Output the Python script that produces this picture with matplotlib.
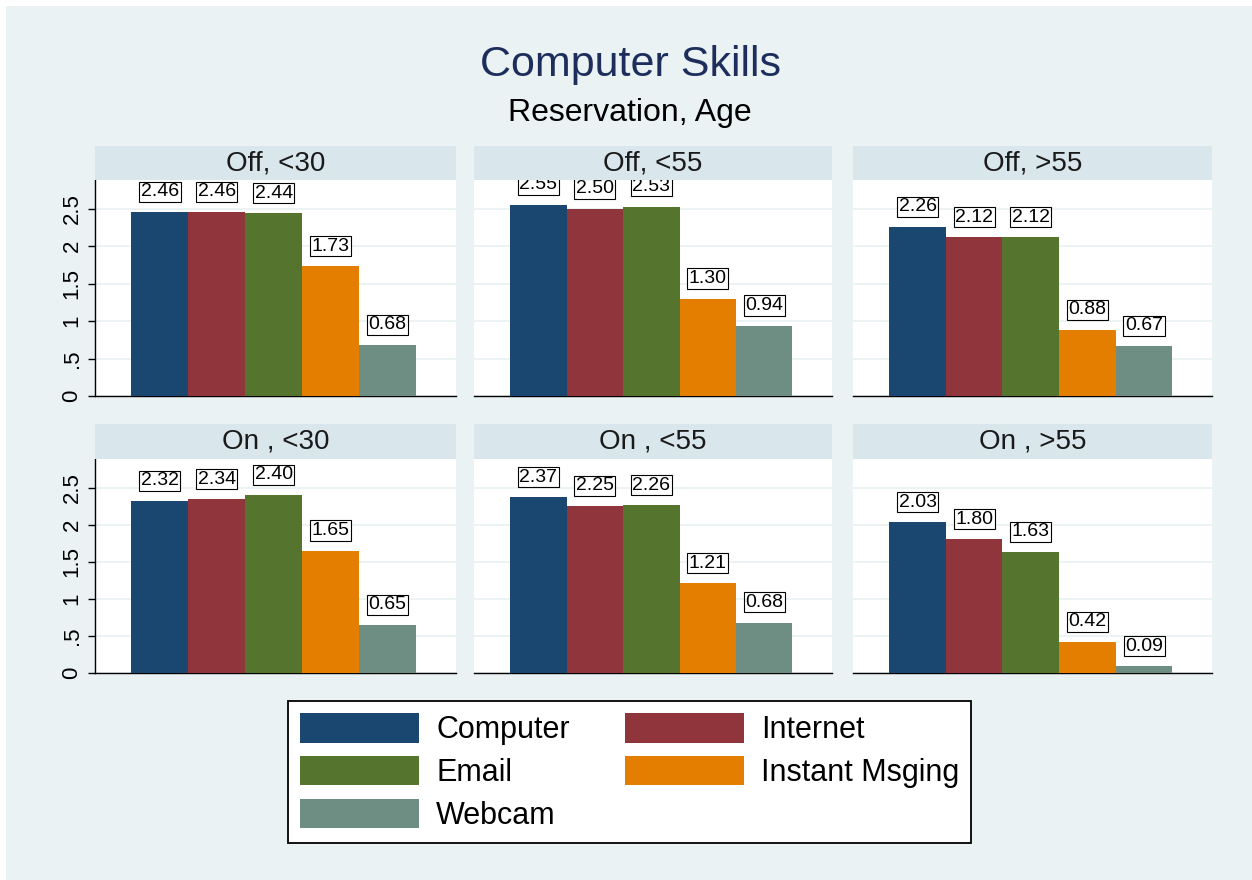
import matplotlib
matplotlib.use("Agg")
import matplotlib.pyplot as plt
from matplotlib.patches import Rectangle, Patch
import numpy as np

plt.rcParams['font.family'] = ['Liberation Sans', 'DejaVu Sans']

series = ["Computer", "Internet", "Email", "Instant Msging", "Webcam"]
colors = ["#1A476F", "#90353B", "#55752F", "#E37E00", "#6E8E84"]
panels = ["Off, <30", "Off, <55", "Off, >55", "On , <30", "On , <55", "On , >55"]
values = [
    [2.46, 2.46, 2.44, 1.73, 0.68],
    [2.55, 2.50, 2.53, 1.30, 0.94],
    [2.26, 2.12, 2.12, 0.88, 0.67],
    [2.32, 2.34, 2.40, 1.65, 0.65],
    [2.37, 2.25, 2.26, 1.21, 0.68],
    [2.03, 1.80, 1.63, 0.42, 0.09],
]
yticks = [0, 0.5, 1, 1.5, 2, 2.5]
yticklabels = ["0", ".5", "1", "1.5", "2", "2.5"]

W, H = 1252, 880
bg = "#EAF2F3"
strip_c = "#D9E6EB"
fig = plt.figure(figsize=(W / 100, H / 100), dpi=100, facecolor="white")
fig.patches.append(Rectangle((6 / W, 0), 1 - 6 / W, 1 - 6 / H, transform=fig.transFigure,
                             facecolor=bg, edgecolor="none", zorder=-10))

def px(x0, y0, x1, y1):
    return [x0 / W, 1 - y1 / H, (x1 - x0) / W, (y1 - y0) / H]

col_x = [(95, 456), (474, 832), (853, 1212)]
row_y = [(146, 180, 396), (424, 459, 673)]

for i, (name, vals) in enumerate(zip(panels, values)):
    r, c = divmod(i, 3)
    x0, x1 = col_x[c]
    s0, p0, p1 = row_y[r]
    ax = fig.add_axes(px(x0, p0, x1, p1))
    ax.set_facecolor("white")
    xpos = np.arange(len(vals))
    ax.bar(xpos, vals, width=1.0, color=colors, edgecolor="none", zorder=3)
    for xv, v in zip(xpos, vals):
        ax.annotate(f"{v:.2f}", (xv, v), xytext=(0, 14.5), textcoords="offset points",
                    ha="center", va="center", fontsize=14, zorder=4, clip_on=True,
                    bbox=dict(boxstyle="square,pad=0.08", facecolor="white",
                              edgecolor="black", linewidth=0.8))
    ax.set_xlim(-1.14, 5.2)
    ax.set_ylim(0, 2.885)
    ax.set_yticks(yticks)
    ax.grid(axis="y", color=bg, linewidth=1.3, zorder=0)
    ax.set_axisbelow(True)
    ax.set_xticks([])
    for sp in ["top", "right"]:
        ax.spines[sp].set_visible(False)
    ax.spines["bottom"].set_linewidth(1.0)
    if c == 0:
        ax.set_yticklabels(yticklabels, rotation=90, va="center", fontsize=16)
        ax.tick_params(axis="y", length=5, width=1.0, pad=4)
        ax.spines["left"].set_linewidth(1.0)
    else:
        ax.spines["left"].set_visible(False)
        ax.tick_params(axis="y", length=0, labelleft=False)
    # strip
    sax = fig.add_axes(px(x0, s0, x1, p0))
    sax.set_facecolor(strip_c)
    sax.set_xticks([]); sax.set_yticks([])
    for sp in sax.spines.values():
        sp.set_visible(False)
    sax.text(0.5, 0.5, name, ha="center", va="center", fontsize=20,
             color="#1a1a1a", transform=sax.transAxes)

fig.text(630 / W, 1 - 65 / H, "Computer Skills", ha="center", va="center",
         fontsize=31, color="#1E2E5C")
fig.text(630 / W, 1 - 113 / H, "Reservation, Age", ha="center", va="center",
         fontsize=23, color="black")

# matplotlib fills legend columns first; this order gives row-wise reading
order = [0, 2, 4, 1, 3]
handles = [Patch(facecolor=colors[k], edgecolor="none") for k in order]
leg = fig.legend(handles, [series[k] for k in order], ncol=2,
                 loc="center", bbox_to_anchor=(629.5 / W, 1 - 772 / H),
                 fontsize=22, frameon=True, fancybox=False, framealpha=1.0,
                 handlelength=3.9, handleheight=1.1, handletextpad=0.55,
                 columnspacing=1.8, labelspacing=0.35, borderpad=0.4,
                 borderaxespad=0)
leg.get_frame().set_edgecolor("black")
leg.get_frame().set_linewidth(1.3)
leg.get_frame().set_facecolor("white")

fig.savefig("out.png", dpi=100, facecolor=fig.get_facecolor())
